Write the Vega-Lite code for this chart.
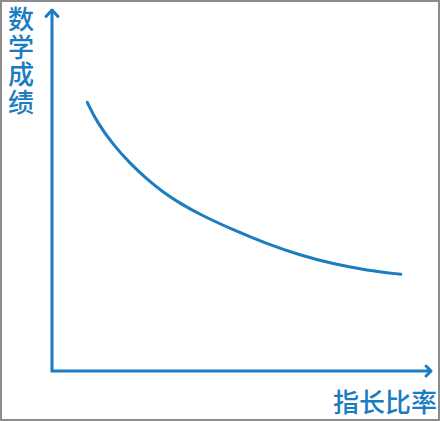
{
  "$schema": "https://vega.github.io/schema/vega-lite/v6.json",
  "width": 440,
  "height": 421,
  "padding": 0,
  "autosize": "none",
  "background": "#FFFFFF",
  "datasets": {
    "curve": [
      {"x": 9.31, "y": 74.43},
      {"x": 11.79, "y": 69.06},
      {"x": 16.17, "y": 62.6},
      {"x": 20.58, "y": 57.53},
      {"x": 24.99, "y": 53.19},
      {"x": 29.37, "y": 49.5},
      {"x": 33.77, "y": 46.45},
      {"x": 39.05, "y": 43.35},
      {"x": 47.84, "y": 39.06},
      {"x": 56.65, "y": 35.24},
      {"x": 65.44, "y": 32.08},
      {"x": 74.22, "y": 29.64},
      {"x": 83.03, "y": 27.89},
      {"x": 92.01, "y": 26.79}
    ],
    "axes": [
      {"i": 1, "x": 0, "y": 99.6},
      {"i": 2, "x": 0, "y": 0},
      {"i": 3, "x": 99.6, "y": 0}
    ],
    "arrows": [
      {"dir": "up", "x": 0, "y": 100},
      {"dir": "right", "x": 100, "y": 0}
    ],
    "xtitle": [{"label": "指长比率", "x": 101.6, "y": -9.1}],
    "ytitle": [{"label": "数\n学\n成\n绩", "x": -8.2, "y": 100.5}]
  },
  "encoding": {
    "x": {
      "field": "x",
      "type": "quantitative",
      "scale": {"domain": [-13.72, 102.37], "nice": false, "zero": false},
      "axis": null
    },
    "y": {
      "field": "y",
      "type": "quantitative",
      "scale": {"domain": [-13.85, 102.77], "nice": false, "zero": false},
      "axis": null
    }
  },
  "layer": [
    {
      "data": {"name": "axes"},
      "mark": {
        "type": "line",
        "color": "#1a7cc1",
        "strokeWidth": 3,
        "strokeJoin": "miter",
        "strokeCap": "butt"
      },
      "encoding": {"order": {"field": "i", "type": "quantitative"}}
    },
    {
      "data": {"name": "arrows"},
      "mark": {
        "type": "point",
        "filled": false,
        "color": "#1a7cc1",
        "strokeWidth": 3,
        "strokeCap": "round",
        "strokeJoin": "round",
        "opacity": 1,
        "size": 121
      },
      "encoding": {
        "shape": {
          "field": "dir",
          "type": "nominal",
          "scale": {
            "domain": ["up", "right"],
            "range": ["M-1.09,1.18L0,0L1.09,1.18", "M-0.91,-0.91L0,0L-0.91,0.91"]
          },
          "legend": null
        }
      }
    },
    {
      "data": {"name": "curve"},
      "mark": {
        "type": "line",
        "interpolate": "basis",
        "color": "#1a7cc1",
        "strokeWidth": 3,
        "strokeCap": "round"
      }
    },
    {
      "data": {"name": "xtitle"},
      "mark": {
        "type": "text",
        "align": "right",
        "baseline": "middle",
        "font": "Noto Sans CJK SC",
        "fontSize": 26,
        "fontWeight": 500,
        "color": "#1a7cc1"
      },
      "encoding": {"text": {"field": "label", "type": "nominal"}}
    },
    {
      "data": {"name": "ytitle"},
      "mark": {
        "type": "text",
        "align": "center",
        "baseline": "top",
        "lineBreak": "\n",
        "lineHeight": 27.5,
        "font": "Noto Sans CJK SC",
        "fontSize": 26,
        "fontWeight": 500,
        "color": "#1a7cc1"
      },
      "encoding": {"text": {"field": "label", "type": "nominal"}}
    }
  ],
  "config": {
    "view": {"stroke": "#8c8c8c", "strokeWidth": 4}
  }
}
